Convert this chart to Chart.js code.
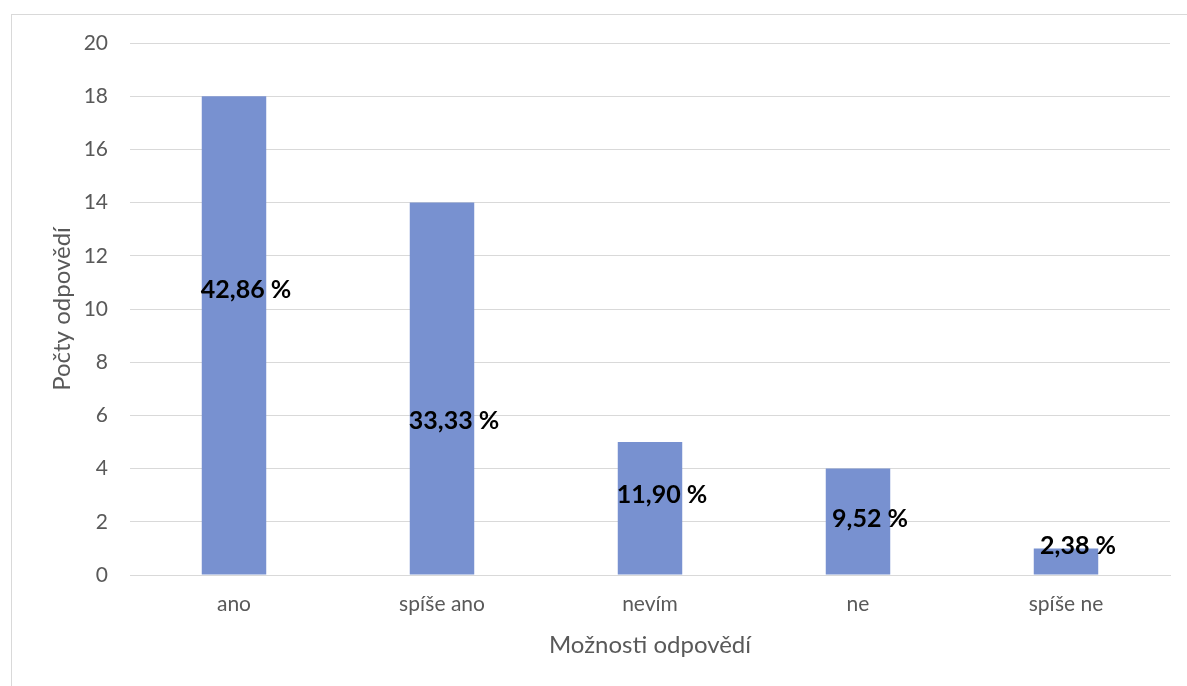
<!DOCTYPE html>
<html>
<head>
<meta charset="utf-8">
<script src="https://cdn.jsdelivr.net/npm/chart.js@4/dist/chart.umd.min.js"></script>
<style>
  html, body { margin: 0; padding: 0; background: #fff; }
  #wrap { position: relative; width: 1187px; height: 686px; overflow: hidden; }
  #frame { position: absolute; left: 11px; top: 14px; width: 1200px; height: 700px;
           border: 1px solid #d9d9d9; box-sizing: border-box; }
  canvas { position: absolute; left: 0; top: 0; }
</style>
</head>
<body>
<div id="wrap">
  <div id="frame"></div>
  <canvas id="c" width="1187" height="686"></canvas>
</div>
<script>
// Answer options and the number of responses for each
const categories = ['ano', 'spíše ano', 'nevím', 'ne', 'spíše ne'];
const counts = [18, 14, 5, 4, 1];
const yTicks = [0, 2, 4, 6, 8, 10, 12, 14, 16, 18, 20];
// Heights (in axis units) at which the percentage labels sit
const labelAt = [10.7, 5.8, 3.0, 2.1, 1.1];

const total = counts.reduce((a, b) => a + b, 0);
const pctText = v => (v / total * 100).toFixed(2).replace('.', ',') + ' %';

const FONT = 'Lato, "Open Sans", sans-serif';

const percentLabels = {
  id: 'percentLabels',
  afterDatasetsDraw(chart) {
    const { ctx } = chart;
    const meta = chart.getDatasetMeta(0);
    const y = chart.scales.y;
    ctx.save();
    ctx.font = 'bold 25px ' + FONT;
    ctx.fillStyle = '#000';
    ctx.textAlign = 'center';
    ctx.textBaseline = 'middle';
    meta.data.forEach((bar, i) => {
      ctx.fillText(pctText(counts[i]), bar.x + 12, y.getPixelForValue(labelAt[i]));
    });
    ctx.restore();
  }
};

new Chart(document.getElementById('c'), {
  type: 'bar',
  data: {
    labels: categories,
    datasets: [{
      data: counts,
      backgroundColor: '#7891d0',
      categoryPercentage: 1,
      barPercentage: 0.31
    }]
  },
  options: {
    responsive: false,
    animation: false,
    layout: { padding: { top: 43, right: 17, left: 48, bottom: 26 } },
    plugins: { legend: { display: false }, tooltip: { enabled: false } },
    scales: {
      x: {
        grid: { display: false, drawTicks: false },
        border: { color: '#d9d9d9', width: 1 },
        ticks: { color: '#595959', font: { family: FONT, size: 21 }, padding: 17 },
        title: { display: true, text: 'Možnosti odpovědí', color: '#595959',
                 font: { family: FONT, size: 24 }, padding: 0 },
        afterFit(s) { s.height = 85; }
      },
      y: {
        min: 0, max: 20,
        afterBuildTicks(s) { s.ticks = yTicks.map(v => ({ value: v })); },
        grid: { color: '#d9d9d9', lineWidth: 1, drawTicks: false },
        border: { display: false },
        ticks: { color: '#595959', font: { family: FONT, size: 21 }, padding: 22 },
        title: { display: true, text: 'Počty odpovědí', color: '#595959',
                 font: { family: FONT, size: 24 }, padding: 0 },
        afterFit(s) { s.width = 82; }
      }
    }
  },
  plugins: [percentLabels]
});
</script>
</body>
</html>
